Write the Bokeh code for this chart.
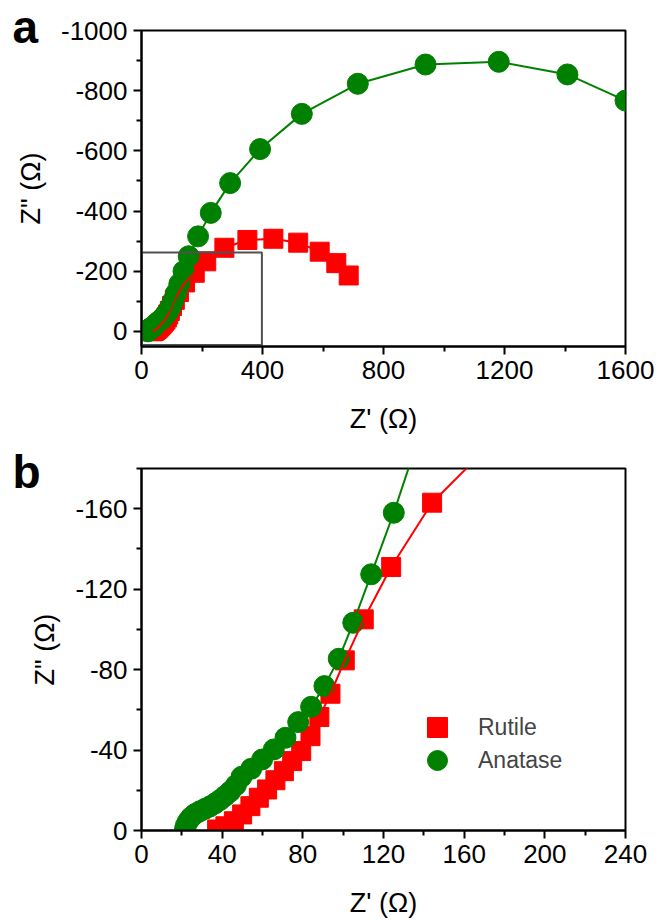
from bokeh.plotting import figure
from bokeh.layouts import column
from bokeh.models import (Range1d, FixedTicker, Legend, LegendItem,
                          Title, ColumnDataSource)
from bokeh.embed import file_html
from bokeh.resources import INLINE

# ---------------- data ----------------
anatase_x = [21.5, 22.0, 23.0, 24.5, 26.5, 29.0, 31.5, 34.0, 36.5, 39.0, 41.5,
             44.0, 46.8, 49.6, 54.4, 59.8, 65.6, 71.4, 77.7, 84.1, 90.7, 97.8,
             105.0, 113.9, 125.1, 139, 156, 187, 229, 293, 392, 530, 715, 939,
             1181, 1408, 1600]
anatase_y = [-0.5, -2.5, -4.5, -6.5, -8.2, -9.6, -10.8, -12.0, -13.5, -15.2,
             -17.2, -19.4, -22.5, -26.7, -30.7, -35.3, -40.3, -46.1, -53.9,
             -61.5, -71.8, -85.4, -103.3, -127.4, -158, -200, -250, -316, -394,
             -493, -606, -723, -823, -887, -896, -854, -767]
rutile_x = [37.5, 41.6, 45.8, 49.9, 54.0, 58.2, 62.3, 66.4, 70.6, 74.7, 79.2,
            83.8, 88.2, 93.7, 100.8, 110.2, 123.8, 144.1, 176, 214, 274, 350,
            436, 518, 589, 644, 685]
rutile_y = [-0.5, -2.1, -4.6, -8.0, -12.1, -16.3, -20.4, -25.0, -29.5, -34.5,
            -39.5, -46.9, -56.4, -68.0, -84.6, -105, -131, -163, -195, -233,
            -278, -304, -308, -295, -265, -227, -186]

a_xticks = [0, 400, 800, 1200, 1600]
a_xminor = [200, 600, 1000, 1400]
a_yticks = [0, -200, -400, -600, -800, -1000]
a_yminor = [-100, -300, -500, -700, -900]
b_xticks = [0, 40, 80, 120, 160, 200, 240]
b_xminor = [20, 60, 100, 140, 180, 220]
b_yticks = [0, -40, -80, -120, -160]
b_yminor = [-20, -60, -100, -140, -180]

box_x = [0, 398]
box_y = [45, -262]

RED = "#ff0000"
GREEN = "#008000"
FONT = "Liberation Sans"

src_a = ColumnDataSource(dict(x=anatase_x, y=anatase_y))
src_r = ColumnDataSource(dict(x=rutile_x, y=rutile_y))


def hyphen_labels(ticks):
    return {t: str(t) for t in ticks}


def style_axes(p, xt, xm, yt, ym):
    for ax in p.xaxis + p.yaxis:
        ax.axis_line_width = 2
        ax.major_tick_line_width = 2
        ax.minor_tick_line_width = 2
        ax.axis_line_color = "black"
        ax.major_tick_line_color = "black"
        ax.minor_tick_line_color = "black"
        ax.major_tick_in = 0
        ax.major_tick_out = 8
        ax.minor_tick_in = 0
        ax.minor_tick_out = 5
        ax.major_label_text_font = FONT
        ax.major_label_text_font_size = "26px"
        ax.major_label_text_color = "black"
        ax.axis_label_text_font = FONT
        ax.axis_label_text_font_size = "27px"
        ax.axis_label_text_font_style = "normal"
        ax.axis_label_text_color = "black"
        ax.major_label_standoff = 6
    p.xaxis.ticker = FixedTicker(ticks=xt, minor_ticks=xm)
    p.yaxis.ticker = FixedTicker(ticks=yt, minor_ticks=ym)
    p.xaxis.major_label_overrides = hyphen_labels(xt)
    p.yaxis.major_label_overrides = hyphen_labels(yt)
    p.xaxis.axis_label = "Z' (\u03a9)"
    p.yaxis.axis_label = 'Z" (\u03a9)'
    p.xaxis.axis_label_standoff = 22
    p.yaxis.axis_label_standoff = 12
    p.xgrid.visible = False
    p.ygrid.visible = False
    p.outline_line_color = "black"
    p.outline_line_width = 2
    p.outline_line_alpha = 1
    p.background_fill_color = "white"
    p.border_fill_color = "white"


def panel_tag(text, standoff):
    return Title(text=text, align="left", offset=-129, standoff=standoff,
                 text_font=FONT, text_font_size="46px",
                 text_font_style="bold", text_color="black")


pa = figure(width=660, height=440, output_backend="svg", toolbar_location=None,
            x_range=Range1d(0, 1600), y_range=Range1d(50, -1000),
            min_border_left=141, min_border_right=34, min_border_top=30,
            min_border_bottom=94)
style_axes(pa, a_xticks, a_xminor, a_yticks, a_yminor)
pa.add_layout(panel_tag("a", -44), "above")

pa.scatter("x", "y", source=src_r, marker="square", size=19,
           fill_color=RED, line_color=RED)
pa.scatter("x", "y", source=src_a, marker="circle", size=21,
           fill_color=GREEN, line_color=GREEN)
pa.line("x", "y", source=src_r, line_color=RED, line_width=2)
pa.line("x", "y", source=src_a, line_color=GREEN, line_width=2)
pa.quad(left=box_x[0], right=box_x[1], bottom=box_y[0], top=box_y[1],
        fill_color=None, line_color="#505050", line_width=2)

pb = figure(width=660, height=480, output_backend="svg", toolbar_location=None,
            x_range=Range1d(0, 240), y_range=Range1d(0, -180),
            min_border_left=141, min_border_right=35, min_border_top=28,
            min_border_bottom=89)
style_axes(pb, b_xticks, b_xminor, b_yticks, b_yminor)
pb.add_layout(panel_tag("b", -58), "above")

rr = pb.scatter("x", "y", source=src_r, marker="square", size=19,
                fill_color=RED, line_color=RED)
ra = pb.scatter("x", "y", source=src_a, marker="circle", size=21,
                fill_color=GREEN, line_color=GREEN)
pb.line("x", "y", source=src_r, line_color=RED, line_width=2)
pb.line("x", "y", source=src_a, line_color=GREEN, line_width=2)

common = dict(glyph_width=50, glyph_height=50, padding=0, margin=0,
              label_standoff=16, label_text_font=FONT,
              label_text_font_size="23px", background_fill_alpha=0,
              border_line_color=None)
leg_r = Legend(items=[LegendItem(label="Rutile", renderers=[rr])],
               location=(271, 78), **common)
leg_a = Legend(items=[LegendItem(label="Anatase", renderers=[ra])],
               location=(271, 45), **common)
pb.add_layout(leg_r)
pb.add_layout(leg_a)

layout = column(pa, pb, spacing=0)
open("out.html", "w").write(file_html(layout, INLINE))
